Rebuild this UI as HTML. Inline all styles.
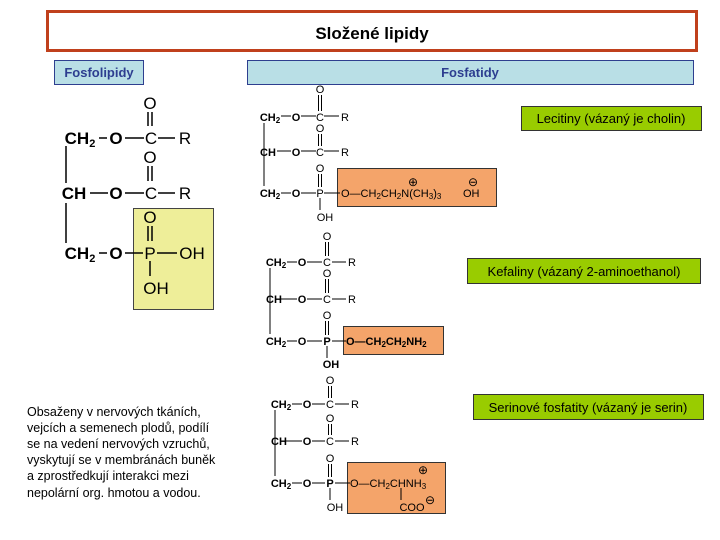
<!DOCTYPE html>
<html><head><meta charset="utf-8"><style>
body{margin:0;background:#fff}
svg{display:block;font-family:"Liberation Sans",sans-serif}
.b{font-weight:bold}
</style></head><body>
<svg width="720" height="540" viewBox="0 0 720 540" xmlns="http://www.w3.org/2000/svg">
<rect width="720" height="540" fill="#fff"/>
<!-- title -->
<rect x="47.5" y="11.5" width="649" height="39" fill="#fff" stroke="#c0401c" stroke-width="3"/>
<text x="372" y="39" font-size="17" font-weight="bold" text-anchor="middle" fill="#000">Složené lipidy</text>
<rect x="54.5" y="60.5" width="89" height="24" fill="#b9dfe6" stroke="#2e3f8f"/>
<text x="99" y="77" font-size="13" font-weight="bold" text-anchor="middle" fill="#2d3e90">Fosfolipidy</text>
<rect x="247.5" y="60.5" width="446" height="24" fill="#b9dfe6" stroke="#2e3f8f"/>
<text x="470" y="77" font-size="13" font-weight="bold" text-anchor="middle" fill="#2d3e90">Fosfatidy</text>

<!-- green labels -->
<g font-size="13" fill="#000">
<rect x="521.5" y="106.5" width="180" height="24" fill="#99cc00" stroke="#333"/>
<text x="611" y="123" text-anchor="middle">Lecitiny (vázaný je cholin)</text>
<rect x="467.5" y="258.5" width="233" height="25" fill="#99cc00" stroke="#333"/>
<text x="584" y="276" text-anchor="middle">Kefaliny (vázaný 2-aminoethanol)</text>
<rect x="473.5" y="394.5" width="230" height="25" fill="#99cc00" stroke="#333"/>
<text x="588" y="412" text-anchor="middle">Serinové fosfatity (vázaný je serin)</text>
</g>

<!-- left structure -->
<rect x="133.5" y="208.5" width="80" height="101" fill="#eeee99" stroke="#444"/>
<g font-size="17" fill="#000" stroke="#000">
<g stroke="none" text-anchor="middle">
<text x="150" y="109">O</text>
<text x="80" y="144" class="b">CH<tspan font-size="11" dy="3">2</tspan></text>
<text x="116" y="144" class="b">O</text>
<text x="151" y="144">C</text>
<text x="185" y="144">R</text>
<text x="150" y="163">O</text>
<text x="74" y="199" class="b">CH</text>
<text x="116" y="199" class="b">O</text>
<text x="151" y="199">C</text>
<text x="185" y="199">R</text>
<text x="150" y="223">O</text>
<text x="80" y="259" class="b">CH<tspan font-size="11" dy="3">2</tspan></text>
<text x="116" y="259" class="b">O</text>
<text x="150" y="259">P</text>
<text x="192" y="259">OH</text>
<text x="156" y="294">OH</text>
</g>
<g stroke-width="1.5" fill="none">
<line x1="66" y1="146" x2="66" y2="183"/><line x1="66" y1="203" x2="66" y2="243"/>
<line x1="99" y1="138" x2="107" y2="138"/><line x1="125" y1="138" x2="144" y2="138"/><line x1="158" y1="138" x2="175" y2="138"/>
<line x1="90" y1="193" x2="108" y2="193"/><line x1="125" y1="193" x2="144" y2="193"/><line x1="158" y1="193" x2="175" y2="193"/>
<line x1="99" y1="253" x2="107" y2="253"/><line x1="125" y1="253" x2="143" y2="253"/><line x1="157" y1="253" x2="177" y2="253"/>
<line x1="148" y1="112" x2="148" y2="126"/><line x1="152" y1="112" x2="152" y2="126"/>
<line x1="148" y1="166" x2="148" y2="181"/><line x1="152" y1="166" x2="152" y2="181"/>
<line x1="148" y1="226" x2="148" y2="241"/><line x1="152" y1="226" x2="152" y2="241"/>
<line x1="150" y1="261" x2="150" y2="276"/>
</g>
</g>

<!-- small structures -->
<g font-size="11" fill="#000">
<rect x="337.5" y="168.5" width="159" height="38" fill="#f4a46a" stroke="#333"/>
<g text-anchor="middle">
<text x="320" y="93">O</text>
<text x="270" y="121" class="b">CH<tspan font-size="8" dy="2">2</tspan></text>
<text x="296" y="121" class="b">O</text><text x="320" y="121">C</text><text x="345" y="121">R</text>
<text x="320" y="132">O</text>
<text x="268" y="156" class="b">CH</text>
<text x="296" y="156" class="b">O</text><text x="320" y="156">C</text><text x="345" y="156">R</text>
<text x="320" y="172">O</text>
<text x="270" y="197" class="b">CH<tspan font-size="8" dy="2">2</tspan></text>
<text x="296" y="197" class="b">O</text><text x="320" y="197">P</text>
<text x="325" y="221">OH</text>
<text x="413" y="186" font-size="12">⊕</text>
<text x="473" y="186" font-size="12">⊖</text>
</g>
<text x="341" y="197">O—CH<tspan font-size="8" dy="2">2</tspan><tspan dy="-2">CH</tspan><tspan font-size="8" dy="2">2</tspan><tspan dy="-2">N(CH</tspan><tspan font-size="8" dy="2">3</tspan><tspan dy="-2">)</tspan><tspan font-size="8" dy="2">3</tspan><tspan dy="-2" x="463">OH</tspan></text>
<rect x="343.5" y="326.5" width="100" height="28" fill="#f4a46a" stroke="#333"/>
<g text-anchor="middle">
<text x="327" y="240">O</text>
<text x="276" y="266" class="b">CH<tspan font-size="8" dy="2">2</tspan></text>
<text x="302" y="266" class="b">O</text><text x="327" y="266">C</text><text x="352" y="266">R</text>
<text x="327" y="277">O</text>
<text x="274" y="303" class="b">CH</text>
<text x="302" y="303" class="b">O</text><text x="327" y="303">C</text><text x="352" y="303">R</text>
<text x="327" y="319">O</text>
<text x="276" y="345" class="b">CH<tspan font-size="8" dy="2">2</tspan></text>
<text x="302" y="345" class="b">O</text><text x="327" y="345" class="b">P</text>
<text x="331" y="368" class="b">OH</text>
</g>
<text x="346" y="345" class="b">O—CH<tspan font-size="8" dy="2">2</tspan><tspan dy="-2">CH</tspan><tspan font-size="8" dy="2">2</tspan><tspan dy="-2">NH</tspan><tspan font-size="8" dy="2">2</tspan></text>
<rect x="347.5" y="462.5" width="98" height="51" fill="#f4a46a" stroke="#333"/>
<g text-anchor="middle">
<text x="330" y="384">O</text>
<text x="281" y="408" class="b">CH<tspan font-size="8" dy="2">2</tspan></text>
<text x="307" y="408" class="b">O</text><text x="330" y="408">C</text><text x="355" y="408">R</text>
<text x="330" y="422">O</text>
<text x="279" y="445" class="b">CH</text>
<text x="307" y="445" class="b">O</text><text x="330" y="445">C</text><text x="355" y="445">R</text>
<text x="330" y="462">O</text>
<text x="281" y="487" class="b">CH<tspan font-size="8" dy="2">2</tspan></text>
<text x="307" y="487" class="b">O</text><text x="330" y="487" class="b">P</text>
<text x="335" y="511">OH</text>
<text x="423" y="474" font-size="12">⊕</text>
<text x="430" y="504" font-size="12">⊖</text>
<text x="412" y="511">COO</text>
</g>
<text x="350" y="487">O—CH<tspan font-size="8" dy="2">2</tspan><tspan dy="-2">CHNH</tspan><tspan font-size="8" dy="2">3</tspan></text>
</g>
<g stroke="#000" stroke-width="1" fill="none">
<line x1="264" y1="123" x2="264" y2="186"/>
<line x1="281" y1="116" x2="291" y2="116"/><line x1="301" y1="116" x2="316" y2="116"/><line x1="324" y1="116" x2="339" y2="116"/>
<line x1="277" y1="151" x2="291" y2="151"/><line x1="301" y1="151" x2="316" y2="151"/><line x1="324" y1="151" x2="339" y2="151"/>
<line x1="281" y1="193" x2="291" y2="193"/><line x1="301" y1="193" x2="316" y2="193"/><line x1="324" y1="193" x2="340" y2="193"/>
<line x1="318.5" y1="95" x2="318.5" y2="111"/><line x1="321.5" y1="95" x2="321.5" y2="111"/>
<line x1="318.5" y1="134" x2="318.5" y2="146"/><line x1="321.5" y1="134" x2="321.5" y2="146"/>
<line x1="318.5" y1="174" x2="318.5" y2="187"/><line x1="321.5" y1="174" x2="321.5" y2="187"/>
<line x1="320" y1="198" x2="320" y2="210"/>
<line x1="270" y1="268" x2="270" y2="334"/>
<line x1="287" y1="262" x2="297" y2="262"/><line x1="307" y1="262" x2="322" y2="262"/><line x1="332" y1="262" x2="346" y2="262"/>
<line x1="281" y1="299" x2="297" y2="299"/><line x1="307" y1="299" x2="322" y2="299"/><line x1="332" y1="299" x2="346" y2="299"/>
<line x1="287" y1="341" x2="297" y2="341"/><line x1="307" y1="341" x2="322" y2="341"/><line x1="332" y1="341" x2="346" y2="341"/>
<line x1="325.5" y1="242" x2="325.5" y2="256"/><line x1="328.5" y1="242" x2="328.5" y2="256"/>
<line x1="325.5" y1="279" x2="325.5" y2="293"/><line x1="328.5" y1="279" x2="328.5" y2="293"/>
<line x1="325.5" y1="321" x2="325.5" y2="335"/><line x1="328.5" y1="321" x2="328.5" y2="335"/>
<line x1="327" y1="346" x2="327" y2="358"/>
<line x1="275" y1="410" x2="275" y2="476"/>
<line x1="292" y1="404" x2="302" y2="404"/><line x1="312" y1="404" x2="325" y2="404"/><line x1="335" y1="404" x2="349" y2="404"/>
<line x1="286" y1="441" x2="302" y2="441"/><line x1="312" y1="441" x2="325" y2="441"/><line x1="335" y1="441" x2="349" y2="441"/>
<line x1="292" y1="483" x2="302" y2="483"/><line x1="312" y1="483" x2="325" y2="483"/><line x1="335" y1="483" x2="350" y2="483"/>
<line x1="328.5" y1="386" x2="328.5" y2="398"/><line x1="331.5" y1="386" x2="331.5" y2="398"/>
<line x1="328.5" y1="424" x2="328.5" y2="435"/><line x1="331.5" y1="424" x2="331.5" y2="435"/>
<line x1="328.5" y1="464" x2="328.5" y2="477"/><line x1="331.5" y1="464" x2="331.5" y2="477"/>
<line x1="330" y1="488" x2="330" y2="500"/>
<line x1="401" y1="488" x2="401" y2="500"/>
</g>

<g font-size="12.5" fill="#000">
<text x="27" y="416">Obsaženy v nervových tkáních,</text>
<text x="27" y="432">vejcích a semenech plodů, podílí</text>
<text x="27" y="448">se na vedení nervových vzruchů,</text>
<text x="27" y="464">vyskytují se v membránách buněk</text>
<text x="27" y="480">a zprostředkují interakci mezi</text>
<text x="27" y="497">nepolární org. hmotou a vodou.</text>
</g>
</svg>
</body></html>
